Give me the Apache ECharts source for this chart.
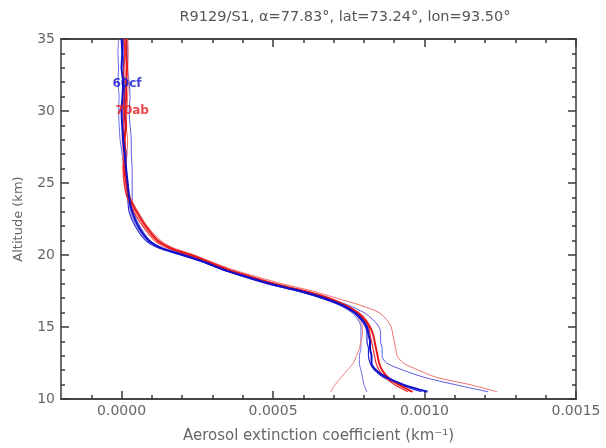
<!DOCTYPE html>
<html>
<head>
<meta charset="utf-8">
<script src="https://cdn.jsdelivr.net/npm/echarts@6/dist/echarts.min.js"></script>
<style>
  html, body { margin: 0; padding: 0; background: #fff; }
  #chart { width: 606px; height: 448px; }
</style>
</head>
<body>
<div id="chart"></div>
<script>
// Altitude grid (km), shared by every profile
var altitudes = [10.5, 11, 11.5, 12, 12.5, 13, 13.5, 14, 14.5, 15, 15.5, 16, 16.5, 17, 17.5, 18, 18.5, 19, 19.5, 20, 20.5, 21, 22, 23, 24, 25, 26, 27, 28, 29, 30, 31, 32, 33, 34, 35];

// Extinction profiles (km^-1), orbit 60cf (blue)
var blueThinLeft = [8.1e-4, 8.0e-4, 7.95e-4, 7.9e-4, 7.85e-4, 7.85e-4, 7.9e-4, 7.9e-4, 7.9e-4, 7.9e-4, 7.8e-4, 7.6e-4, 7.2e-4, 6.6e-4, 5.8e-4, 4.8e-4, 4.0e-4, 3.3e-4, 2.7e-4, 2.0e-4, 1.25e-4, 8.5e-5, 5.0e-5, 3.0e-5, 2.2e-5, 1.5e-5, 8e-6, 2e-6, -5e-6, -8e-6, -1.0e-5, -8e-6, -1.2e-5, -1.0e-5, -1.2e-5, -1.0e-5];
var blueThick = [1.01e-3, 9.3e-4, 8.75e-4, 8.4e-4, 8.25e-4, 8.25e-4, 8.2e-4, 8.2e-4, 8.15e-4, 8.1e-4, 7.95e-4, 7.7e-4, 7.3e-4, 6.7e-4, 5.9e-4, 4.9e-4, 4.1e-4, 3.35e-4, 2.75e-4, 2.05e-4, 1.3e-4, 9e-5, 5.5e-5, 3.5e-5, 2.5e-5, 2.0e-5, 1.5e-5, 1.0e-5, 5e-6, 2e-6, 0, 3e-6, 5e-6, 0, 2e-6, 0];
var blueMid = [9.9e-4, 9.2e-4, 8.65e-4, 8.35e-4, 8.2e-4, 8.15e-4, 8.15e-4, 8.1e-4, 8.1e-4, 8.05e-4, 7.9e-4, 7.65e-4, 7.25e-4, 6.6e-4, 5.8e-4, 4.85e-4, 4.05e-4, 3.3e-4, 2.7e-4, 1.95e-4, 1.2e-4, 8e-5, 4.5e-5, 2.5e-5, 2.0e-5, 1.5e-5, 1.2e-5, 1.5e-5, 1.0e-5, 1.2e-5, 8e-6, 1.0e-5, 8e-6, 6e-6, 8e-6, 6e-6];
var blueThinRight = [1.21e-3, 1.1e-3, 1.0e-3, 9.3e-4, 8.75e-4, 8.6e-4, 8.6e-4, 8.55e-4, 8.55e-4, 8.5e-4, 8.3e-4, 8.0e-4, 7.5e-4, 6.8e-4, 6.0e-4, 5.0e-4, 4.15e-4, 3.4e-4, 2.8e-4, 2.1e-4, 1.35e-4, 9.5e-5, 6.0e-5, 4.0e-5, 3.5e-5, 3.5e-5, 3.5e-5, 3.2e-5, 3.2e-5, 2.8e-5, 2.5e-5, 2.8e-5, 2.5e-5, 2.0e-5, 2.0e-5, 2.0e-5];

// Extinction profiles (km^-1), orbit 70ab (red)
var redThinLeft = [6.9e-4, 7.05e-4, 7.25e-4, 7.45e-4, 7.65e-4, 7.75e-4, 7.85e-4, 7.9e-4, 7.95e-4, 7.95e-4, 7.85e-4, 7.7e-4, 7.35e-4, 6.8e-4, 6.0e-4, 5.0e-4, 4.2e-4, 3.45e-4, 2.85e-4, 2.25e-4, 1.55e-4, 1.15e-4, 7.5e-5, 4.5e-5, 2.0e-5, 1.0e-5, 5e-6, 5e-6, 2e-6, 5e-6, 8e-6, 5e-6, 1.0e-5, 1.2e-5, 1.0e-5, 1.2e-5];
var redThick = [9.6e-4, 9.15e-4, 8.8e-4, 8.6e-4, 8.5e-4, 8.45e-4, 8.4e-4, 8.35e-4, 8.3e-4, 8.2e-4, 8.05e-4, 7.8e-4, 7.4e-4, 6.85e-4, 6.05e-4, 5.05e-4, 4.25e-4, 3.5e-4, 2.9e-4, 2.3e-4, 1.6e-4, 1.2e-4, 8.0e-5, 5.0e-5, 2.5e-5, 1.5e-5, 1.0e-5, 1.2e-5, 1.0e-5, 1.5e-5, 1.2e-5, 1.5e-5, 1.5e-5, 1.8e-5, 1.5e-5, 1.5e-5];
var redMid = [9.45e-4, 9.0e-4, 8.7e-4, 8.5e-4, 8.4e-4, 8.35e-4, 8.3e-4, 8.25e-4, 8.2e-4, 8.15e-4, 8.0e-4, 7.75e-4, 7.35e-4, 6.75e-4, 5.95e-4, 4.95e-4, 4.15e-4, 3.4e-4, 2.8e-4, 2.2e-4, 1.5e-4, 1.1e-4, 7.0e-5, 4.0e-5, 1.8e-5, 8e-6, 5e-6, 8e-6, 5e-6, 8e-6, 5e-6, 8e-6, 5e-6, 8e-6, 1.0e-5, 8e-6];
var redThinRight = [1.24e-3, 1.15e-3, 1.04e-3, 9.8e-4, 9.3e-4, 9.1e-4, 9.05e-4, 9.0e-4, 8.95e-4, 8.9e-4, 8.75e-4, 8.5e-4, 7.9e-4, 7.1e-4, 6.3e-4, 5.3e-4, 4.45e-4, 3.65e-4, 3.0e-4, 2.4e-4, 1.7e-4, 1.3e-4, 8.5e-5, 5.5e-5, 3.0e-5, 2.0e-5, 1.5e-5, 1.8e-5, 2.0e-5, 1.5e-5, 1.8e-5, 2.0e-5, 2.2e-5, 2.0e-5, 2.2e-5, 2.0e-5];

// Tick positions
var xMajorTicks = [0, 0.0005, 0.0010, 0.0015];
var xMinorTicks = [-0.0001, 0.0001, 0.0002, 0.0003, 0.0004, 0.0006, 0.0007, 0.0008, 0.0009, 0.0011, 0.0012, 0.0013, 0.0014];
var xTickLabels = ['0.0000', '0.0005', '0.0010', '0.0015'];

// Orbit tags and where they sit (extinction, altitude)
var orbitTags = [
  { name: '60cf', at: [-0.00003, 31.9], color: '#1010c8' },
  { name: '70ab', at: [-0.00002, 30.0], color: '#e81818' }
];

var chart = echarts.init(document.getElementById('chart'));

var FONT = 'DejaVu Sans';
var AXIS_COLOR = '#3a3a3a';
var LABEL_COLOR = '#666';

function profile(values, color, width) {
  var pts = [];
  for (var i = 0; i < altitudes.length; i++) pts.push([values[i], altitudes[i]]);
  return {
    type: 'line',
    xAxisIndex: 0,
    yAxisIndex: 0,
    data: pts,
    showSymbol: false,
    smooth: 0.3,
    silent: true,
    lineStyle: { color: color, width: width },
    z: width > 1.5 ? 3 : 2
  };
}

function xAxisDef(pos, ticks, len, withLabels) {
  return {
    type: 'value',
    position: pos,
    min: -0.0002,
    max: 0.0015,
    axisLine: { show: true, onZero: false, lineStyle: { color: AXIS_COLOR, width: 1.5 } },
    axisTick: { show: true, inside: true, length: len, customValues: ticks, lineStyle: { color: AXIS_COLOR, width: 1.5 } },
    axisLabel: withLabels ? {
      show: true,
      customValues: xMajorTicks,
      formatter: function (v) {
        for (var i = 0; i < xMajorTicks.length; i++) {
          if (Math.abs(v - xMajorTicks[i]) < 1e-9) return xTickLabels[i];
        }
        return '';
      },
      color: LABEL_COLOR, fontFamily: FONT, fontSize: 14, margin: 5
    } : { show: false },
    splitLine: { show: false }
  };
}

function yAxisDef(pos, withLabels) {
  return {
    type: 'value',
    position: pos,
    min: 10,
    max: 35,
    interval: 5,
    axisLine: { show: true, onZero: false, lineStyle: { color: AXIS_COLOR, width: 1.5 } },
    axisTick: { show: true, inside: true, length: 8, lineStyle: { color: AXIS_COLOR, width: 1.5 } },
    minorTick: { show: true, splitNumber: 5, length: 4, lineStyle: { color: AXIS_COLOR, width: 1.5 } },
    axisLabel: withLabels ? { show: true, color: LABEL_COLOR, fontFamily: FONT, fontSize: 14, margin: 6 } : { show: false },
    splitLine: { show: false },
    minorSplitLine: { show: false },
    name: withLabels ? 'Altitude (km)' : '',
    nameLocation: 'middle',
    nameGap: 36,
    nameTextStyle: { color: LABEL_COLOR, fontFamily: FONT, fontSize: 13 }
  };
}

var xAxes = [
  xAxisDef('bottom', xMajorTicks, 8, true),
  xAxisDef('bottom', xMinorTicks, 4, false),
  xAxisDef('top', xMajorTicks, 8, false),
  xAxisDef('top', xMinorTicks, 4, false)
];
xAxes[0].name = 'Aerosol extinction coefficient (km\u207B\u00B9)';
xAxes[0].nameLocation = 'middle';
xAxes[0].nameGap = 30;
xAxes[0].nameTextStyle = { color: LABEL_COLOR, fontFamily: FONT, fontSize: 15 };

var series = [
  profile(blueThinLeft, '#6a6ae6', 1),
  profile(blueThinRight, '#5a5ae0', 1),
  profile(redThinLeft, '#f07a7a', 1),
  profile(redThinRight, '#ef7070', 1),
  profile(blueMid, '#2a2ad8', 1.2),
  profile(redMid, '#f03030', 1.2),
  profile(redThick, '#e81818', 2),
  profile(blueThick, '#1010c8', 2)
];

orbitTags.forEach(function (t) {
  series.push({
    type: 'scatter',
    xAxisIndex: 0,
    yAxisIndex: 0,
    symbolSize: 0,
    silent: true,
    z: 5,
    data: [t.at],
    label: {
      show: true,
      position: 'right',
      distance: 0,
      formatter: t.name,
      color: t.color,
      fontFamily: FONT,
      fontSize: 12,
      fontWeight: 'bold'
    }
  });
});

chart.setOption({
  animation: false,
  backgroundColor: '#ffffff',
  title: {
    text: 'R9129/S1, \u03B1=77.83\u00B0, lat=73.24\u00B0, lon=93.50\u00B0',
    left: 340,
    textAlign: 'center',
    top: 5,
    textStyle: { color: '#555', fontFamily: FONT, fontSize: 14.5, fontWeight: 'normal' }
  },
  grid: { left: 61, right: 30, top: 39, bottom: 49, outerBoundsMode: 'none' },
  xAxis: xAxes,
  yAxis: [yAxisDef('left', true), yAxisDef('right', false)],
  series: series
});
</script>
</body>
</html>
